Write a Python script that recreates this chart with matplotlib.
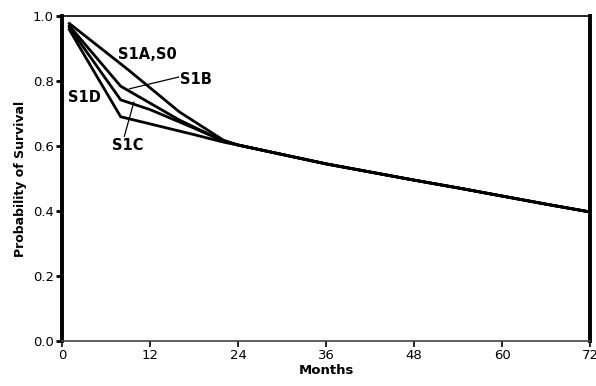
import matplotlib
matplotlib.use("Agg")
import matplotlib.pyplot as plt

tail_months = [24, 30, 36, 42, 48, 54, 60, 66, 72]
tail_values = [0.603, 0.574, 0.545, 0.520, 0.495, 0.471, 0.446, 0.421, 0.397]

s1a_months = [1, 9, 16, 22]
s1a_values = [0.977, 0.835, 0.705, 0.618]
s1b_months = [1, 8, 16, 22]
s1b_values = [0.970, 0.784, 0.680, 0.615]
s1c_months = [1, 8, 12, 18, 22]
s1c_values = [0.965, 0.742, 0.712, 0.655, 0.615]
s1d_months = [1, 8, 12, 18, 22]
s1d_values = [0.958, 0.690, 0.668, 0.635, 0.612]

xticks = [0, 12, 24, 36, 48, 60, 72]
yticks = [0.0, 0.2, 0.4, 0.6, 0.8, 1.0]

fig = plt.figure(figsize=(5.96, 3.86), dpi=100)
ax = fig.add_axes([0.104, 0.1166, 0.886, 0.842])

for m, v in [(s1a_months, s1a_values), (s1b_months, s1b_values),
             (s1c_months, s1c_values), (s1d_months, s1d_values)]:
    ax.plot(m + tail_months, v + tail_values, color="black", lw=2.0,
            solid_joinstyle="miter")

ax.set_xlim(0, 72)
ax.set_ylim(0, 1.0)
ax.set_xticks(xticks)
ax.set_xticklabels([str(t) for t in xticks])
ax.set_yticks(yticks)
ax.set_yticklabels([f"{t:.1f}" for t in yticks])
ax.tick_params(axis="both", labelsize=9.5, direction="out", length=4, width=1.2, pad=2)
ax.tick_params(axis="y", width=2)

ax.spines["left"].set_linewidth(2.8)
ax.spines["right"].set_linewidth(2.8)
ax.spines["top"].set_linewidth(1.2)
ax.spines["bottom"].set_linewidth(1.2)
ax.spines["bottom"].set_color("#444444")

ax.set_xlabel("Months", fontsize=9.5, fontweight="bold", labelpad=1)
ax.set_ylabel("Probability of Survival", fontsize=9, fontweight="bold", labelpad=4)

kw = dict(fontsize=10.5, fontweight="bold", ha="center", va="center")
ax.text(11.6, 0.88, "S1A,S0", **kw)
ax.text(18.2, 0.806, "S1B", **kw)
ax.text(3.1, 0.748, "S1D", **kw)
ax.text(9.0, 0.60, "S1C", **kw)
ax.plot([15.9, 9.2], [0.812, 0.776], color="black", lw=0.9)
ax.plot([9.8, 8.5], [0.735, 0.63], color="black", lw=0.9)

fig.savefig("out.png", dpi=100)
